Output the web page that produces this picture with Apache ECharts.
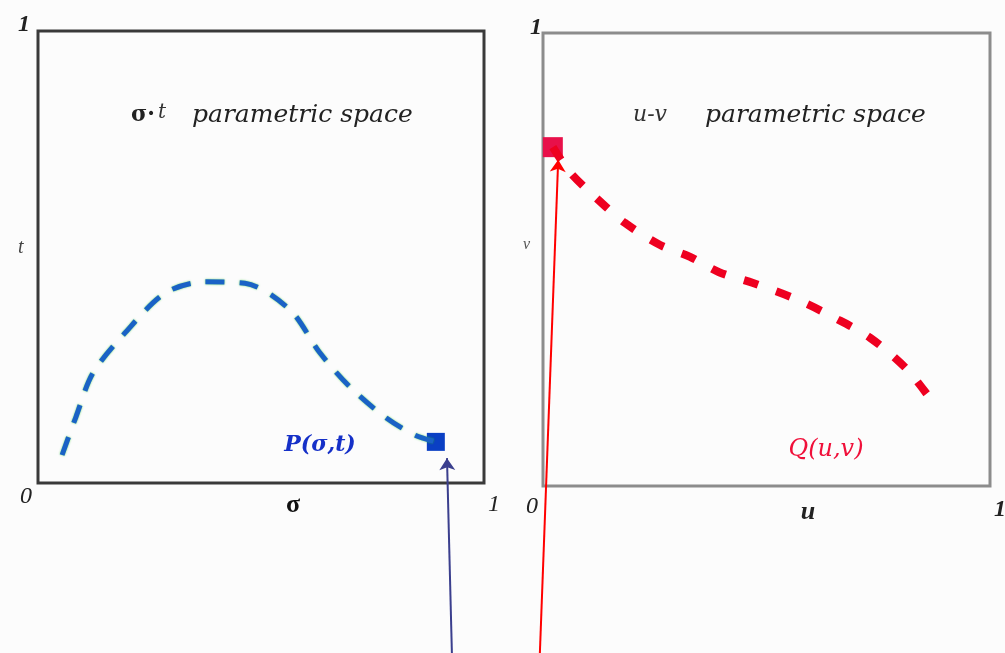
<!DOCTYPE html>
<html>
<head>
<meta charset="utf-8">
<script src="https://cdn.jsdelivr.net/npm/echarts@6/dist/echarts.min.js"></script>
<style>
html,body{margin:0;padding:0;background:#fcfcfc;}
#chart{width:1005px;height:653px;}
</style>
</head>
<body>
<div id="chart"></div>
<script>
// σ-t parametric space curve P(σ,t)
const sigmaVals = [0.054,0.085,0.123,0.195,0.285,0.374,0.464,0.565,0.632,0.700,0.778,0.845,0.892];
const tVals     = [0.062,0.146,0.243,0.332,0.420,0.445,0.442,0.383,0.288,0.212,0.146,0.106,0.091];
// u-v parametric space curve Q(u,v)
const uVals = [0.022,0.060,0.119,0.183,0.262,0.329,0.394,0.470,0.570,0.653,0.732,0.812,0.864];
const vVals = [0.748,0.693,0.636,0.581,0.532,0.506,0.472,0.448,0.411,0.371,0.327,0.260,0.196];
// highlighted points
const pPoint = [0.892, 0.091];
const qPoint = [0.022, 0.748];
// arrows (start below the chart, end at the points)
const pArrow = [[0.928, -0.376], [0.917, 0.055]];
const qArrow = [[-0.007, -0.369], [0.034, 0.72]];

const curveP = sigmaVals.map((s, i) => [s, tVals[i]]);
const curveQ = uVals.map((u, i) => [u, vVals[i]]);

const chart = echarts.init(document.getElementById('chart'));
const serif = '"Liberation Serif","DejaVu Serif",serif';
const dserif = '"DejaVu Serif",serif';
function txt(text, x, y, font, fill, align) {
  return {type:'text', z:100, style:{text, x, y, font, fill: fill || '#222', textAlign: align || 'left', textVerticalAlign:'middle'}};
}
const hiddenAxis = (gi) => ({gridIndex: gi, type:'value', min:0, max:1,
  axisLine:{show:false}, axisTick:{show:false}, axisLabel:{show:false}, splitLine:{show:false}});

chart.setOption({
  backgroundColor:'#fcfcfc',
  animation:false,
  grid:[
    {left:38, top:31, width:446, height:452, show:true, borderColor:'#3a3a3a', borderWidth:3, backgroundColor:'transparent'},
    {left:543, top:33, width:447, height:453, show:true, borderColor:'#8c8c8c', borderWidth:3, backgroundColor:'transparent'}
  ],
  xAxis:[hiddenAxis(0), hiddenAxis(1)],
  yAxis:[hiddenAxis(0), hiddenAxis(1)],
  series:[
    {type:'line', xAxisIndex:0, yAxisIndex:0, data:curveP, smooth:0.3, symbol:'none',
     lineStyle:{color:'#1a62c6', width:5, type:[19,15], cap:'butt', shadowColor:'rgba(40,200,40,0.7)', shadowBlur:2}},
    {type:'scatter', xAxisIndex:0, yAxisIndex:0, data:[pPoint], symbol:'rect', symbolSize:18,
     itemStyle:{color:'#0a3fc4', opacity:1}},
    {type:'line', xAxisIndex:1, yAxisIndex:1, data:curveQ, smooth:0.3, symbol:'none',
     lineStyle:{color:'#ee0020', width:8, type:[15,19], cap:'butt'}},
    {type:'scatter', xAxisIndex:1, yAxisIndex:1, data:[qPoint], symbol:'rect', symbolSize:20,
     itemStyle:{color:'#e8104a', opacity:1}},
    {type:'lines', coordinateSystem:'cartesian2d', xAxisIndex:0, yAxisIndex:0, clip:false, z:10,
     symbol:['none','arrow'], symbolSize:12,
     lineStyle:{color:'#3b3f8e', width:2, opacity:1},
     data:[{coords:pArrow}]},
    {type:'lines', coordinateSystem:'cartesian2d', xAxisIndex:1, yAxisIndex:1, clip:false, z:10,
     symbol:['none','arrow'], symbolSize:12,
     lineStyle:{color:'#ff0000', width:2, opacity:1},
     data:[{coords:qArrow}]}
  ],
  graphic:[
    // left panel
    txt('1', 18, 25, 'italic bold 24px ' + serif),
    txt('t', 18, 248, 'italic 20px ' + serif, '#444'),
    txt('0', 20, 497, 'italic 24px ' + serif),
    txt('σ', 293, 505, 'bold 26px ' + serif, '#111', 'center'),
    txt('1', 488, 505, 'italic 24px ' + serif),
    txt('σ·', 131, 115, 'bold 22px ' + dserif, '#222'),
    txt('t', 158, 113, 'italic 20px ' + dserif, '#333'),
    txt('parametric space', 192, 115, 'italic 25px ' + dserif, '#222'),
    txt('P(σ,t)', 320, 445, 'italic bold 22px ' + dserif, '#1530c8', 'center'),
    // right panel
    txt('1', 530, 28, 'italic bold 24px ' + serif),
    txt('v', 523, 245, 'italic 16px ' + serif, '#555'),
    txt('0', 526, 507, 'italic 24px ' + serif),
    txt('u', 808, 512, 'italic bold 26px ' + serif, '#222', 'center'),
    txt('1', 994, 510, 'italic bold 24px ' + serif),
    txt('u-v', 633, 115, 'italic 22px ' + dserif, '#333'),
    txt('parametric space', 705, 115, 'italic 25px ' + dserif, '#222'),
    txt('Q(u,v)', 826, 450, 'italic 24px ' + dserif, '#f0103a', 'center')
  ]
});
</script>
</body>
</html>
